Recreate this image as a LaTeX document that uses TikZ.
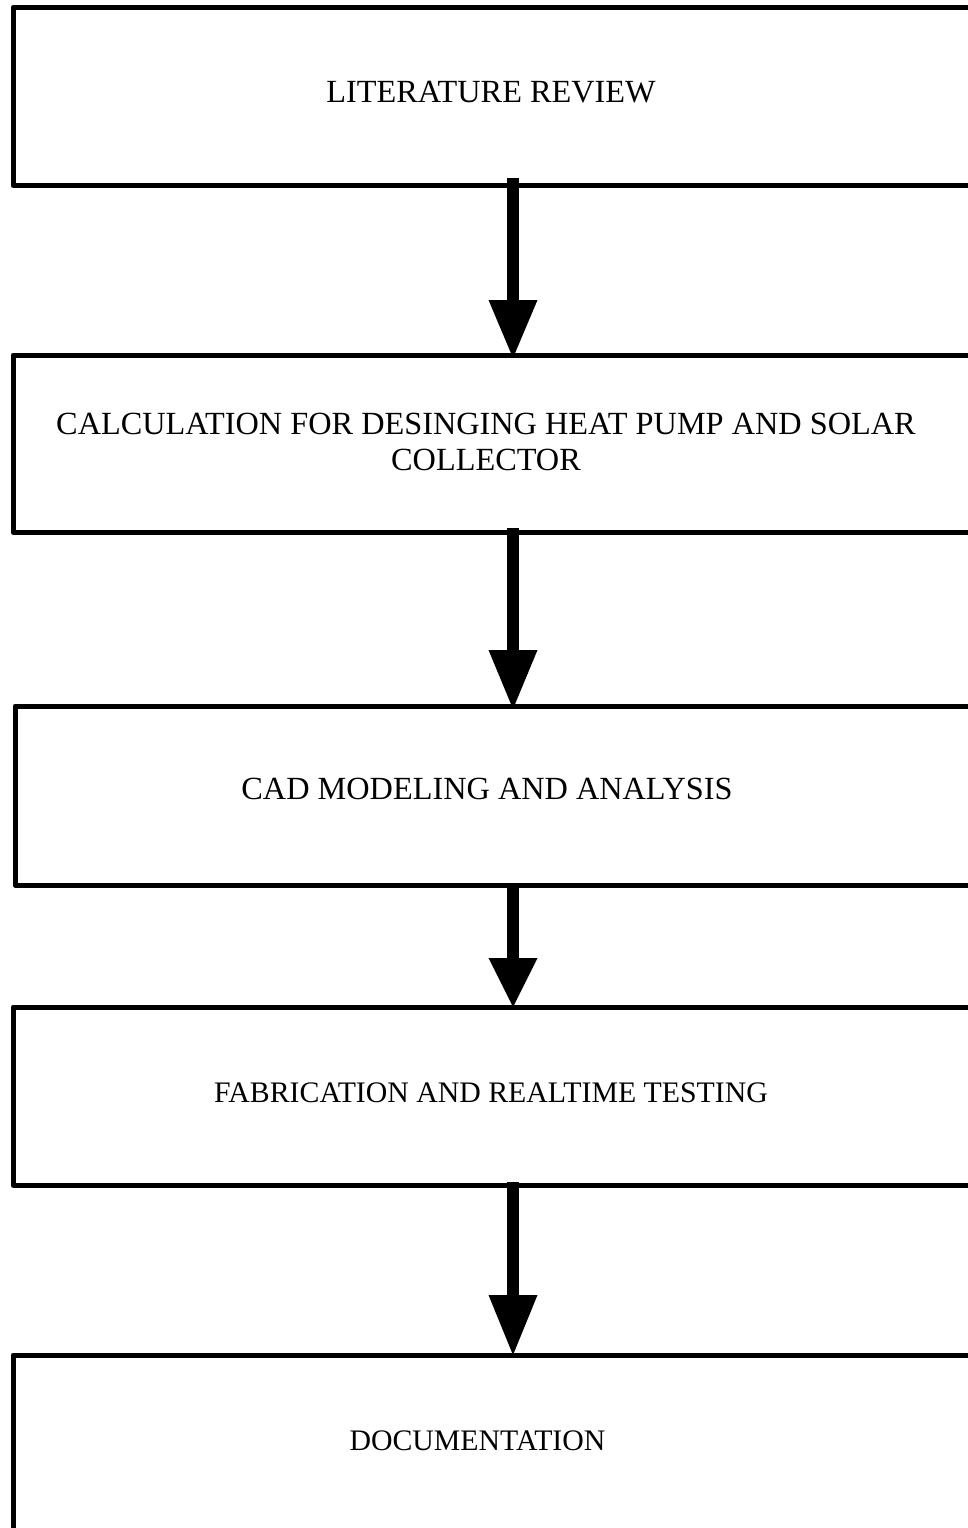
\documentclass[tikz,border=0pt]{standalone}
\usepackage{fontspec}
\setmainfont{Liberation Serif}
\usetikzlibrary{arrows.meta}

\tikzset{
  stage/.style={draw=black, line width=5pt, outer sep=0pt, inner sep=0pt,
    rectangle, line join=round, minimum width=987pt},
  captionfont/.style={font=\fontsize{32.3}{36}\selectfont, inner sep=0pt},
  caption/.style={captionfont, anchor=base},
  smallcaption/.style={font=\fontsize{29.8}{34}\selectfont, inner sep=0pt, anchor=base},
  flow/.style={line width=12pt, line cap=butt,
    -{Triangle[width=49pt,length=#1,line width=0pt]}},
  flow/.default=58pt
}

\begin{document}
\begin{tikzpicture}[x=1pt,y=-1pt]
  \useasboundingbox (0,0) rectangle (968,1528);
  \clip (0,0) rectangle (968,1528);
  \fill[white] (0,0) rectangle (968,1528);

  % process stages (boxes run off the right-hand side)
  \node[stage, minimum height=178pt] (b1) at (506.5,96.5) {};
  \node[stage, minimum height=177pt] (b2) at (506.5,443.5) {};
  \node[stage, minimum height=179pt, minimum width=985pt] (b3) at (507.5,795.5) {};
  \node[stage, minimum height=178pt] (b4) at (506.5,1096) {};
  \node[stage, minimum height=205pt] (b5) at (506.5,1457.5) {};

  % stage captions
  \node[caption] (t1) at (491,102.5) {LITERATURE REVIEW};
  \node[captionfont, align=center] (t2) at (486,442)
    {CALCULATION FOR DESINGING HEAT PUMP AND SOLAR\\COLLECTOR};
  \node[caption] (t3) at (487,799) {CAD MODELING AND ANALYSIS};
  \node[smallcaption] (t4) at (491,1102) {FABRICATION AND REALTIME TESTING};
  \node[smallcaption] (t5) at (477.5,1450) {DOCUMENTATION};

  % arrows between stages
  \coordinate (ax) at (513,0);
  \draw[flow, shorten <=-7.5pt, shorten >=-3pt] (b1.south -| ax) -- (b2.north -| ax);
  \draw[flow=59pt, shorten <=-4pt, shorten >=-3pt] (b2.south -| ax) -- (b3.north -| ax);
  \draw[flow=49pt, shorten <=-2pt] (b3.south -| ax) -- (b4.north -| ax);
  \draw[flow=60pt, shorten <=-3pt] (b4.south -| ax) -- (b5.north -| ax);
\end{tikzpicture}
\end{document}
